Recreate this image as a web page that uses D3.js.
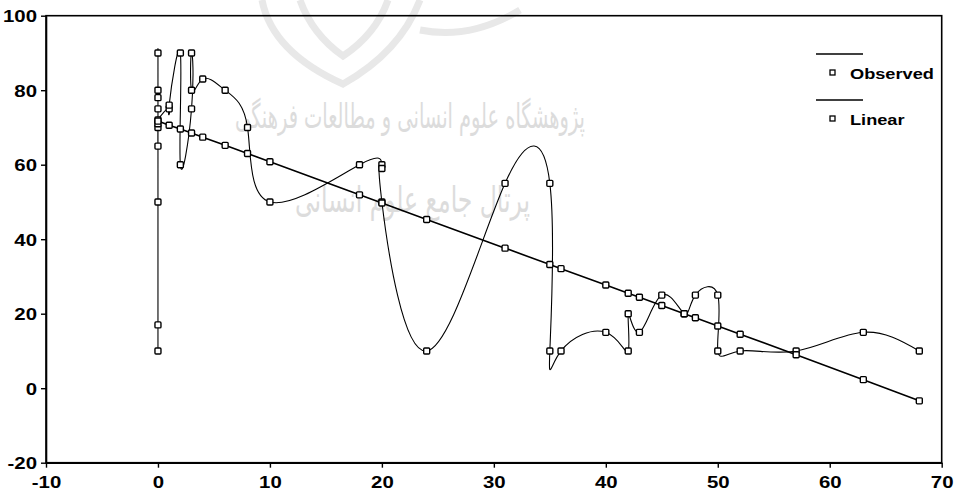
<!DOCTYPE html>
<html>
<head>
<meta charset="utf-8">
<script src="https://cdn.jsdelivr.net/npm/d3@7"></script>
<style>
  html, body { margin: 0; padding: 0; background: #fff; }
  svg { display: block; }
</style>
</head>
<body>
<svg id="chart" width="961" height="493"></svg>
<script>
// Observed series, in drawing order (repeated x values keep their recorded order)
const observedX = [0, 0, 0, 0, 0, 0, 0, 0, 0, 0, 0,
                   1, 1, 2, 2, 3, 3, 3, 4, 6, 8, 10, 18, 20, 20, 20, 24,
                   31, 35, 35, 36, 40, 42, 42, 43, 45, 47, 48, 50, 50, 52, 57, 63, 68];
const observedY = [10, 17, 50, 90, 80, 78, 75, 65, 70, 71, 72,
                   75, 76, 90, 60, 75, 90, 80, 83, 80, 70, 50, 60, 60, 59, 50, 10,
                   55, 55, 10, 10, 15, 10, 20, 15, 25, 20, 25, 25, 10, 10, 10, 15, 10];

// Linear fit, evaluated at each distinct x
const linearX = [0, 1, 2, 3, 4, 6, 8, 10, 18, 20, 24, 31, 35, 36, 40, 42, 43, 45, 47, 48, 50, 52, 57, 63, 68];
const linearY = [71.7, 70.6, 69.6, 68.5, 67.4, 65.2, 63.0, 60.8, 51.9, 49.7, 45.3, 37.6, 33.2, 32.1,
                 27.7, 25.5, 24.4, 22.2, 20.0, 18.9, 16.7, 14.5, 9.0, 2.3, -3.4];

const xTicks = [-10, 0, 10, 20, 30, 40, 50, 60, 70];
const yTicks = [-20, 0, 20, 40, 60, 80, 100];
const seriesNames = ["Observed", "Linear"];

const svg = d3.select("#chart");
const plotLeft = 46, plotRight = 941.7, plotTop = 15.7, plotBottom = 462.7;

const x = d3.scaleLinear().domain([-10, 70]).range([plotLeft, plotRight]);
const y = d3.scaleLinear().domain([-20, 100]).range([plotBottom, plotTop]);

// faint institutional watermark behind the plot
const wm = svg.append("g").attr("fill", "none").attr("stroke", "#e8e8e8").attr("stroke-width", 7);
wm.append("path").attr("d", "M262,0 Q272,52 343,84 Q400,52 420,0");
wm.append("path").attr("d", "M300,0 Q312,34 343,56 Q376,34 388,0");
wm.append("path").attr("d", "M420,30 Q470,40 520,10");
svg.append("text")
  .attr("x", 585).attr("y", 128)
  .attr("text-anchor", "start")
  .attr("direction", "rtl")
  .attr("font-family", "DejaVu Sans")
  .attr("font-size", 34)
  .attr("textLength", 350).attr("lengthAdjust", "spacingAndGlyphs")
  .attr("fill", "#dcdcdc")
  .text("پژوهشگاه علوم انسانی و مطالعات فرهنگی");
svg.append("text")
  .attr("x", 530).attr("y", 212)
  .attr("text-anchor", "start")
  .attr("direction", "rtl")
  .attr("font-family", "DejaVu Sans")
  .attr("font-size", 36)
  .attr("textLength", 235).attr("lengthAdjust", "spacingAndGlyphs")
  .attr("fill", "#dcdcdc")
  .text("پرتال جامع علوم انسانی");

svg.append("clipPath").attr("id", "plotClip")
  .append("rect").attr("x", plotLeft).attr("y", plotTop)
  .attr("width", plotRight - plotLeft).attr("height", plotBottom - plotTop);

const plot = svg.append("g").attr("clip-path", "url(#plotClip)");

const observed = observedX.map((v, i) => [v, observedY[i]]);
const linear = linearX.map((v, i) => [v, linearY[i]]);

const smooth = d3.line().x(d => x(d[0])).y(d => y(d[1])).curve(d3.curveNatural);
const straight = d3.line().x(d => x(d[0])).y(d => y(d[1]));

plot.append("path").datum(observed).attr("d", smooth)
  .attr("fill", "none").attr("stroke", "#000").attr("stroke-width", 1.1);
plot.append("path").datum(linear).attr("d", straight)
  .attr("fill", "none").attr("stroke", "#000").attr("stroke-width", 1.6);

const ms = 6;
function markers(data) {
  plot.append("g").selectAll("rect").data(data).join("rect")
    .attr("x", d => x(d[0]) - ms / 2).attr("y", d => y(d[1]) - ms / 2)
    .attr("width", ms).attr("height", ms).attr("rx", 1)
    .attr("fill", "#fff").attr("stroke", "#000").attr("stroke-width", 1.4);
}
markers(observed);
markers(linear);

// frame and axes
svg.append("rect").attr("x", plotLeft).attr("y", plotTop)
  .attr("width", plotRight - plotLeft).attr("height", plotBottom - plotTop)
  .attr("fill", "none").attr("stroke", "#000").attr("stroke-width", 1.6);

const labelFont = "'Liberation Sans', Arial, sans-serif";
const plain = d => String(d);

const yAxis = svg.append("g").attr("transform", `translate(${plotLeft},0)`)
  .call(d3.axisLeft(y).tickValues(yTicks).tickSize(5).tickSizeOuter(0).tickFormat(plain));
const xAxis = svg.append("g").attr("transform", `translate(0,${plotBottom})`)
  .call(d3.axisBottom(x).tickValues(xTicks).tickSize(5).tickSizeOuter(0).tickFormat(plain));

[xAxis, yAxis].forEach(a => {
  a.select(".domain").attr("stroke", "#000").attr("stroke-width", 1.6);
  a.selectAll(".tick line").attr("stroke", "#000").attr("stroke-width", 1.4);
  a.selectAll(".tick text").attr("font-family", labelFont).attr("font-size", 17)
    .attr("font-weight", "bold").attr("fill", "#000");
});
// slightly wide lettering
yAxis.selectAll(".tick text")
  .attr("x", null).attr("dy", null).attr("dominant-baseline", "central")
  .attr("transform", "translate(-9,0) scale(1.2,1)");
xAxis.selectAll(".tick text")
  .attr("y", null).attr("dy", null)
  .attr("transform", "translate(0,25) scale(1.2,1)");

// legend: line sample on one row, marker with name on the next
const legend = svg.append("g").attr("transform", "translate(816,0)");
seriesNames.forEach((name, i) => {
  const base = 54 + i * 46;
  legend.append("line").attr("x1", 0).attr("x2", 47).attr("y1", base).attr("y2", base)
    .attr("stroke", "#000").attr("stroke-width", 1.4);
  legend.append("rect").attr("x", 14).attr("y", base + 16).attr("width", 5).attr("height", 5)
    .attr("fill", "#fff").attr("stroke", "#000").attr("stroke-width", 1.3);
  legend.append("text")
    .attr("transform", `translate(34,${base + 25}) scale(1.3,1)`)
    .attr("font-family", labelFont).attr("font-size", 14).attr("font-weight", "bold")
    .text(name);
});
</script>
</body>
</html>
